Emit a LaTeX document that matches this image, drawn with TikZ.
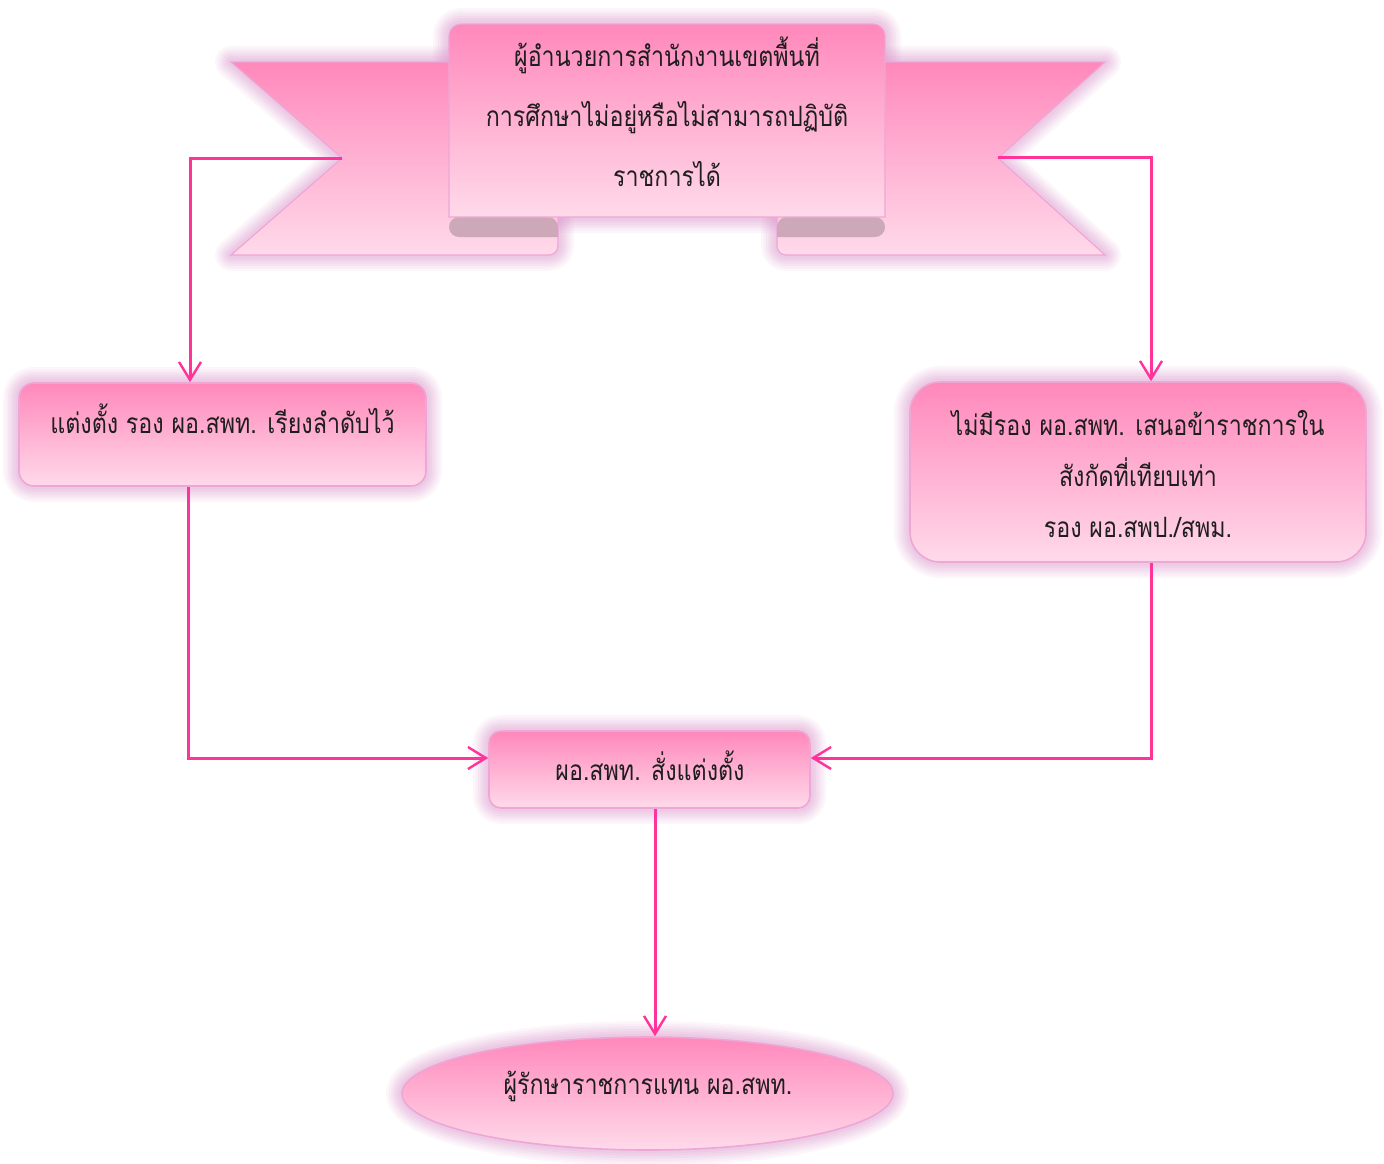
\documentclass[tikz,border=0pt]{standalone}
\usepackage{fontspec}
\newfontfamily\thai[Script=Thai,FakeStretch=0.83]{Loma}
\usetikzlibrary{arrows.meta,shapes.geometric,calc}

\definecolor{pinktop}{HTML}{FF88BB}
\definecolor{pinkbot}{HTML}{FFDAEA}
\definecolor{edgec}{HTML}{EEA6D6}
\definecolor{glowc}{HTML}{D890C8}
\definecolor{foldc}{HTML}{CDA8B8}
\definecolor{linkc}{HTML}{FF3399}
\definecolor{inkc}{HTML}{1E1E1E}

\tikzset{
  glow/.style={
    preaction={draw=glowc,line width=16pt,opacity=.08,line join=round},
    preaction={draw=glowc,line width=13.5pt,opacity=.09,line join=round},
    preaction={draw=glowc,line width=11pt,opacity=.1,line join=round},
    preaction={draw=glowc,line width=8.5pt,opacity=.11,line join=round},
    preaction={draw=glowc,line width=6pt,opacity=.12,line join=round},
    preaction={draw=glowc,line width=3.5pt,opacity=.13,line join=round}},
  pinkfill/.style={top color=pinktop,bottom color=pinkbot},
  box/.style={glow,pinkfill,draw=edgec,line width=.8pt,inner sep=0pt},
  label/.style={font=\thai\fontsize{14}{25.5}\selectfont,text=inkc,align=center,inner sep=0pt},
  conn/.style={draw=linkc,line width=1.5pt,-{Straight Barb[length=9pt,width=11pt,line width=1.2pt]}}
}

% ribbon outlines
\def\tailL{(231,62) -- (558,62) -- (558,246) arc[start angle=0,end angle=90,radius=9] -- (231,255) -- (342,158) -- cycle}
\def\tailR{(1105,62) -- (777,62) -- (777,246) arc[start angle=180,end angle=90,radius=9] -- (1105,255) -- (998,158) -- cycle}
\def\foldL{(459,217) -- (548,217) arc[start angle=-90,end angle=0,radius=10] -- (558,237) -- (459,237) arc[start angle=90,end angle=270,radius=10] -- cycle}
\def\foldR{(875,217) -- (787,217) arc[start angle=-90,end angle=-180,radius=10] -- (777,237) -- (875,237) arc[start angle=90,end angle=-90,radius=10] -- cycle}
\def\panel{(449,217) -- (449,36) arc[start angle=180,end angle=270,radius=12] -- (873,24) arc[start angle=270,end angle=360,radius=12] -- (885,217) -- cycle}

\begin{document}
\begin{tikzpicture}[x=0.5pt,y=-0.5pt]
\useasboundingbox (0,0) rectangle (1384,1163);

% ribbon: halo first, then the pieces
\path[glow] \tailL;
\path[glow] \tailR;
\path[glow] \panel;
\path[pinkfill,draw=edgec,line width=.6pt] \tailL;
\path[pinkfill,draw=edgec,line width=.6pt] \tailR;
\path[fill=foldc] \foldL;
\path[fill=foldc] \foldR;
\path[pinkfill,draw=edgec,line width=.6pt] \panel;
\node[label,font=\thai\fontsize{14}{30}\selectfont] (head) at (667,112)
  {ผู้อำนวยการสำนักงานเขตพื้นที่\\การศึกษาไม่อยู่หรือไม่สามารถปฏิบัติ\\ราชการได้};
\coordinate (nL) at (342,158);
\coordinate (nR) at (998,157);

% boxes
\node[box,rounded corners=7.5pt,minimum width=203.5pt,minimum height=51.5pt] (b1) at (222.5,434.5) {};
\node[label] (t1) at (222.5,419) {แต่งตั้ง รอง ผอ.สพท. เรียงลำดับไว้};

\node[box,rounded corners=15pt,minimum width=228pt,minimum height=90pt] (b2) at (1138,472) {};
\node[label] (t2) at (1138,474) {ไม่มีรอง ผอ.สพท. เสนอข้าราชการใน\\สังกัดที่เทียบเท่า\\รอง ผอ.สพป./สพม.};

\node[box,rounded corners=6pt,minimum width=160.5pt,minimum height=38.5pt] (b3) at (649.5,769.5) {};
\node[label] (t3) at (650,766) {ผอ.สพท. สั่งแต่งตั้ง};

\node[box,ellipse,minimum width=245.5pt,minimum height=56.5pt] (b4) at (647.5,1093.5) {};
\node[label] (t4) at (648,1086) {ผู้รักษาราชการแทน ผอ.สพท.};

% connectors
\draw[conn] (nL) -| ([xshift=-16.25pt]b1.north);
\draw[conn] (nR) -| ([xshift=6.5pt]b2.north);
\draw[conn] ([xshift=-17pt]b1.south) |- ([yshift=5.75pt]b3.west);
\draw[conn] ([xshift=6.5pt]b2.south) |- ([yshift=5.75pt]b3.east);
\draw[conn] ([xshift=2.75pt]b3.south) -- ([xshift=2.75pt]b3.south |- b4.north);
\end{tikzpicture}
\end{document}
